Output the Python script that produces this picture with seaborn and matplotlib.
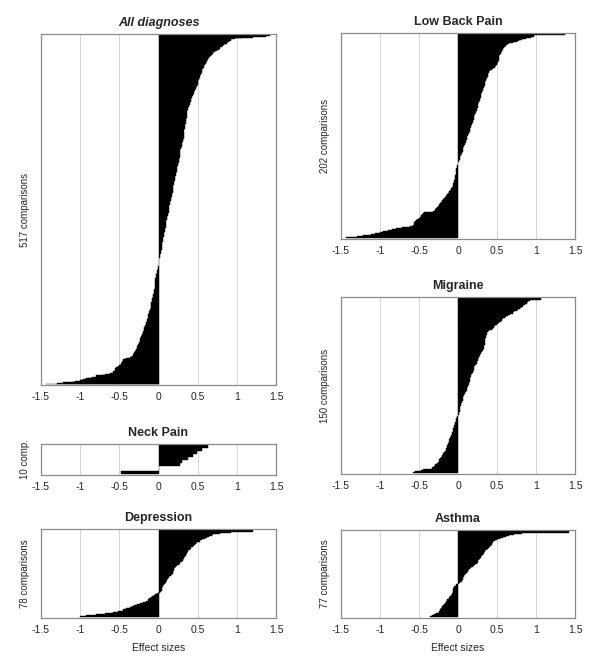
import matplotlib
matplotlib.use("Agg")
import matplotlib.pyplot as plt
import seaborn as sns
import numpy as np
import pandas as pd

# effect sizes per diagnosis (ascending, bottom to top)
low_back_pain = [
    -1.43, -1.30, -1.22, -1.12, -1.06, -1.00, -0.96, -0.90, -0.85, -0.80, -0.72, -0.62,
    -0.58, -0.57, -0.56, -0.56, -0.55, -0.54, -0.52, -0.50, -0.49, -0.48, -0.47, -0.46, -0.45, -0.44,
    -0.32, -0.30, -0.29, -0.28, -0.27, -0.26, -0.25, -0.24, -0.23, -0.22, -0.21, -0.20, -0.19, -0.18,
    -0.17, -0.16, -0.15, -0.14, -0.13, -0.12, -0.11, -0.10, -0.09, -0.09, -0.08, -0.07, -0.07, -0.06,
    -0.06, -0.05,
    -0.05, -0.05, -0.04, -0.04, -0.04, -0.04, -0.04, -0.03, -0.03, -0.03, -0.03, -0.02, -0.02, -0.02,
    -0.01, -0.01, -0.01, 0.00, 0.00,
    0.00, 0.01, 0.01, 0.02, 0.02, 0.03, 0.03, 0.04, 0.04, 0.05, 0.05, 0.06,
    0.06, 0.07, 0.07, 0.08, 0.08, 0.09, 0.09, 0.10, 0.10, 0.10,
    0.11, 0.11, 0.12, 0.12, 0.13, 0.13, 0.14, 0.14, 0.15, 0.15, 0.16, 0.16, 0.17,
    0.17, 0.17, 0.18, 0.18, 0.19, 0.19, 0.19, 0.20, 0.20, 0.21, 0.21, 0.21, 0.22, 0.22, 0.23, 0.23, 0.24,
    0.24, 0.24, 0.25, 0.25, 0.26, 0.26, 0.26, 0.27, 0.27, 0.28,
    0.28, 0.28, 0.29, 0.29, 0.30, 0.30, 0.30, 0.31, 0.31, 0.32, 0.32, 0.32, 0.33, 0.33, 0.34, 0.34,
    0.34, 0.35, 0.35, 0.36, 0.36, 0.37, 0.37, 0.38, 0.38, 0.39, 0.39, 0.40, 0.40,
    0.41, 0.43, 0.45, 0.47, 0.48,
    0.49, 0.50, 0.50, 0.51, 0.51, 0.52, 0.52, 0.52, 0.53, 0.53,
    0.53, 0.54, 0.55, 0.55, 0.56, 0.57, 0.58, 0.58, 0.59,
    0.60, 0.61, 0.63, 0.66, 0.70, 0.75, 0.78, 0.82, 0.87, 0.93, 0.98, 1.37,
]

migraine = [
    -0.58, -0.55, -0.47, -0.45, -0.33,
    -0.31, -0.30, -0.29, -0.27, -0.26, -0.25, -0.24, -0.23, -0.22, -0.21,
    -0.20, -0.19, -0.18, -0.17, -0.16, -0.15, -0.15, -0.14, -0.14, -0.13, -0.13,
    -0.12, -0.11, -0.11, -0.10, -0.10, -0.09, -0.09, -0.08, -0.08, -0.07, -0.07,
    -0.06, -0.06, -0.05, -0.05, -0.04, -0.04, -0.04, -0.03, -0.03, -0.02, -0.01, -0.01,
    0.00, 0.01, 0.01, 0.01, 0.02, 0.02, 0.02, 0.03, 0.03, 0.04, 0.04, 0.05, 0.05, 0.06,
    0.06, 0.07, 0.07, 0.08, 0.08, 0.09, 0.09, 0.10, 0.11, 0.11, 0.12,
    0.13, 0.13, 0.14, 0.14, 0.15, 0.15, 0.15, 0.16, 0.16, 0.17, 0.17, 0.18,
    0.19, 0.19, 0.20, 0.20, 0.21, 0.21, 0.22, 0.23, 0.24, 0.24, 0.25,
    0.26, 0.26, 0.27, 0.27, 0.28, 0.29, 0.30, 0.31, 0.32, 0.32, 0.33, 0.33, 0.33, 0.34,
    0.34, 0.34, 0.35, 0.35, 0.35, 0.36, 0.36, 0.36, 0.37, 0.37, 0.38, 0.40, 0.43,
    0.45, 0.46, 0.48, 0.50, 0.51, 0.53, 0.55, 0.56, 0.58, 0.60, 0.62,
    0.64, 0.67, 0.70, 0.72, 0.75, 0.77, 0.79, 0.81, 0.83, 0.86, 0.88, 0.89, 0.90, 0.92, 1.07,
]

neck_pain = [-0.48, 0.00, 0.00, 0.27, 0.30, 0.38, 0.44, 0.49, 0.55, 0.63]

depression = [
    -1.00, -0.92, -0.80, -0.68, -0.58, -0.52, -0.45, -0.41, -0.37, -0.34, -0.31,
    -0.27, -0.24, -0.20, -0.16, -0.14, -0.12, -0.10, -0.08, -0.06, -0.04, -0.02,
    0.02, 0.03, 0.04, 0.05, 0.05, 0.06, 0.06, 0.07, 0.08, 0.09, 0.10, 0.11, 0.12, 0.13,
    0.14, 0.16, 0.17, 0.18, 0.19, 0.19, 0.20, 0.20, 0.21, 0.22, 0.24, 0.26, 0.27, 0.28,
    0.30, 0.31, 0.32, 0.33, 0.34, 0.35, 0.35, 0.36, 0.37, 0.38, 0.40, 0.41, 0.42, 0.44,
    0.45, 0.46, 0.48, 0.49, 0.53, 0.56, 0.59, 0.62, 0.65, 0.68, 0.70, 0.78, 0.92, 1.20,
]

asthma = [
    -0.36, -0.33, -0.31, -0.28, -0.25, -0.24, -0.23, -0.22, -0.21, -0.20,
    -0.19, -0.18, -0.17, -0.16, -0.15, -0.14, -0.12, -0.11, -0.10, -0.09,
    -0.08, -0.08, -0.07, -0.07, -0.06, -0.06, -0.05, -0.05, -0.03, -0.02,
    0.01, 0.03, 0.05, 0.06, 0.06, 0.07, 0.08, 0.08, 0.09, 0.10,
    0.12, 0.13, 0.14, 0.15, 0.17, 0.19, 0.21, 0.22, 0.24, 0.25,
    0.26, 0.27, 0.28, 0.29, 0.30, 0.31, 0.32, 0.33, 0.33, 0.35,
    0.37, 0.39, 0.40, 0.41, 0.42, 0.43, 0.43, 0.45, 0.47, 0.50,
    0.54, 0.58, 0.62, 0.66, 0.72, 0.82, 1.42,
]

# all diagnoses = the five groups together
all_diagnoses = low_back_pain + migraine + neck_pain + depression + asthma

sns.set_style("white")
plt.rcParams["font.family"] = ["Liberation Sans", "DejaVu Sans"]

fig = plt.figure(figsize=(6, 6.64), dpi=100)
W, H = 600, 664


def panel(left, top, right, bottom, values, title, ylab, italic=False, xlab=None):
    ax = fig.add_axes([left / W, 1 - bottom / H, (right - left) / W, (bottom - top) / H])
    vals = sorted(values, reverse=True)
    n = len(vals)
    df = pd.DataFrame({"rank": np.arange(n), "effect": vals})
    for g in [-1, -0.5, 0.5, 1]:
        ax.axvline(g, color="#d4d4d4", lw=0.7, zorder=0)
    sns.barplot(data=df, x="effect", y="rank", orient="h", color="black",
                width=1.0, linewidth=0.3, edgecolor="black", errorbar=None,
                saturation=1, ax=ax, zorder=2)
    # leave about 1.5 px free inside the frame so the end bars show
    pad = 1.5 * n / (bottom - top)
    ax.set_xlim(-1.5, 1.5)
    ax.set_ylim(n - 0.5 + pad * 0.5, -0.5 - pad)
    ax.set_xticks([-1.5, -1, -0.5, 0, 0.5, 1, 1.5])
    ax.set_xticklabels(["-1.5", "-1", "-0.5", "0", "0.5", "1", "1.5"], fontsize=7.5)
    ax.set_yticks([])
    ax.tick_params(axis="x", length=0, pad=5)
    for s in ax.spines.values():
        s.set_color("#8a8a8a")
        s.set_linewidth(0.9)
        s.set_zorder(3)
    ax.set_ylabel(ylab, fontsize=7, labelpad=8)
    ax.set_xlabel(xlab if xlab else "", fontsize=7.5, labelpad=6)
    ax.set_title(title, fontsize=9, fontweight="bold",
                 fontstyle="italic" if italic else "normal", pad=6)
    return ax


panel(41, 34, 276, 385, all_diagnoses, "All diagnoses", "517 comparisons", italic=True)
panel(341, 33, 575, 239, low_back_pain, "Low Back Pain", "202 comparisons")
panel(341, 297, 575, 474, migraine, "Migraine", "150 comparisons")
panel(41, 444, 276, 475, neck_pain, "Neck Pain", "10 comp.")
panel(41, 529, 276, 618, depression, "Depression", "78 comparisons", xlab="Effect sizes")
panel(341, 530, 575, 618, asthma, "Asthma", "77 comparisons", xlab="Effect sizes")

fig.savefig("out.png", dpi=100)
